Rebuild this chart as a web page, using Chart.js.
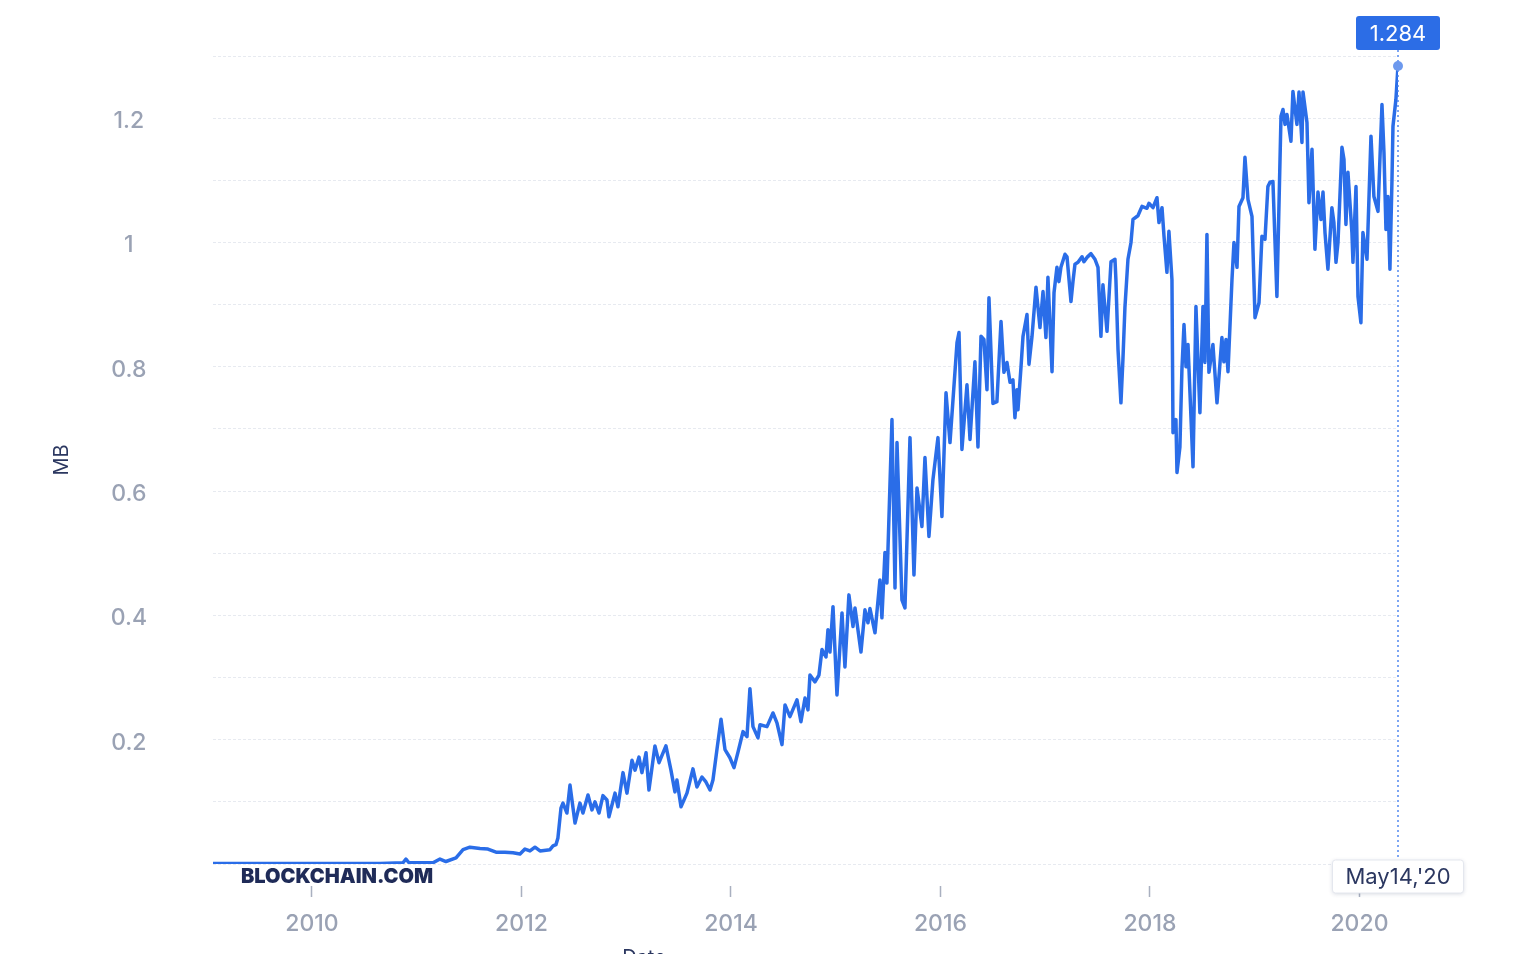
<!DOCTYPE html>
<html>
<head>
<meta charset="utf-8">
<title>Average Block Size</title>
<script src="https://cdn.jsdelivr.net/npm/chart.js@4/dist/chart.umd.min.js"></script>
<style>
  html, body { margin: 0; padding: 0; background: #fff; overflow: hidden; }
  #wrap { position: relative; width: 1518px; height: 990px; }
</style>
</head>
<body>
<div id="wrap"><canvas id="sizeChart"></canvas></div>
<script>
// dates as decimal years
const dates = [
	2009.055, 2009.885, 2010.649, 2010.869, 2010.897, 2010.926, 2011.155, 2011.222, 2011.279, 2011.375,
	2011.442, 2011.508, 2011.604, 2011.680, 2011.757, 2011.842, 2011.919, 2011.986, 2012.033, 2012.081,
	2012.129, 2012.177, 2012.272, 2012.301, 2012.329, 2012.348, 2012.377, 2012.396, 2012.434, 2012.463,
	2012.511, 2012.558, 2012.587, 2012.635, 2012.673, 2012.702, 2012.740, 2012.778, 2012.816, 2012.835,
	2012.893, 2012.921, 2012.969, 2013.007, 2013.055, 2013.084, 2013.122, 2013.150, 2013.189, 2013.217,
	2013.274, 2013.313, 2013.379, 2013.427, 2013.465, 2013.484, 2013.523, 2013.580, 2013.637, 2013.675,
	2013.723, 2013.761, 2013.800, 2013.828, 2013.866, 2013.905, 2013.943, 2013.990, 2014.029, 2014.067,
	2014.115, 2014.153, 2014.181, 2014.210, 2014.258, 2014.277, 2014.344, 2014.401, 2014.439, 2014.487,
	2014.516, 2014.563, 2014.630, 2014.668, 2014.707, 2014.735, 2014.754, 2014.802, 2014.840, 2014.869,
	2014.907, 2014.926, 2014.945, 2014.974, 2015.012, 2015.060, 2015.088, 2015.126, 2015.165, 2015.184,
	2015.241, 2015.279, 2015.308, 2015.327, 2015.375, 2015.422, 2015.441, 2015.470, 2015.489, 2015.537,
	2015.566, 2015.585, 2015.632, 2015.661, 2015.709, 2015.747, 2015.776, 2015.823, 2015.852, 2015.890,
	2015.928, 2015.976, 2016.014, 2016.053, 2016.091, 2016.158, 2016.177, 2016.205, 2016.253, 2016.282,
	2016.329, 2016.358, 2016.387, 2016.415, 2016.444, 2016.463, 2016.501, 2016.539, 2016.578, 2016.606,
	2016.635, 2016.664, 2016.692, 2016.711, 2016.730, 2016.740, 2016.769, 2016.788, 2016.826, 2016.845,
	2016.874, 2016.912, 2016.950, 2016.979, 2017.007, 2017.026, 2017.065, 2017.084, 2017.112, 2017.131,
	2017.150, 2017.189, 2017.208, 2017.246, 2017.265, 2017.284, 2017.313, 2017.351, 2017.370, 2017.399,
	2017.437, 2017.475, 2017.504, 2017.532, 2017.551, 2017.590, 2017.628, 2017.666, 2017.675, 2017.695,
	2017.723, 2017.742, 2017.761, 2017.790, 2017.819, 2017.838, 2017.885, 2017.924, 2017.971, 2017.990,
	2018.029, 2018.067, 2018.086, 2018.115, 2018.134, 2018.162, 2018.181, 2018.210, 2018.220, 2018.248,
	2018.258, 2018.286, 2018.305, 2018.325, 2018.344, 2018.363, 2018.382, 2018.411, 2018.439, 2018.477,
	2018.506, 2018.525, 2018.544, 2018.563, 2018.601, 2018.640, 2018.687, 2018.706, 2018.726, 2018.745,
	2018.783, 2018.802, 2018.831, 2018.850, 2018.888, 2018.907, 2018.936, 2018.974, 2019.003, 2019.041,
	2019.069, 2019.098, 2019.126, 2019.146, 2019.174, 2019.212, 2019.251, 2019.270, 2019.289, 2019.308,
	2019.346, 2019.365, 2019.403, 2019.423, 2019.451, 2019.461, 2019.499, 2019.518, 2019.547, 2019.575,
	2019.604, 2019.633, 2019.652, 2019.671, 2019.699, 2019.737, 2019.756, 2019.776, 2019.795, 2019.833,
	2019.852, 2019.871, 2019.890, 2019.928, 2019.938, 2019.967, 2019.986, 2020.014, 2020.033, 2020.072,
	2020.110, 2020.138, 2020.177, 2020.215, 2020.234, 2020.253, 2020.272, 2020.291, 2020.310, 2020.320,
	2020.348, 2020.368
];

// average block size in MB
const blockSize = [
	0.001, 0.001, 0.001, 0.002, 0.008, 0.002, 0.002, 0.008, 0.004, 0.010,
	0.023, 0.027, 0.025, 0.024, 0.019, 0.019, 0.018, 0.016, 0.024, 0.021,
	0.027, 0.021, 0.023, 0.029, 0.031, 0.042, 0.090, 0.098, 0.082, 0.127,
	0.066, 0.098, 0.082, 0.111, 0.087, 0.100, 0.082, 0.110, 0.103, 0.076,
	0.114, 0.092, 0.147, 0.114, 0.167, 0.151, 0.172, 0.147, 0.179, 0.119,
	0.190, 0.163, 0.190, 0.151, 0.116, 0.135, 0.092, 0.114, 0.153, 0.124,
	0.140, 0.132, 0.119, 0.135, 0.184, 0.233, 0.184, 0.171, 0.155, 0.180,
	0.213, 0.205, 0.282, 0.221, 0.203, 0.224, 0.221, 0.243, 0.227, 0.192,
	0.256, 0.237, 0.264, 0.229, 0.267, 0.248, 0.304, 0.293, 0.304, 0.345,
	0.333, 0.377, 0.341, 0.414, 0.272, 0.404, 0.317, 0.433, 0.382, 0.412,
	0.341, 0.409, 0.388, 0.411, 0.372, 0.457, 0.396, 0.501, 0.452, 0.715,
	0.444, 0.678, 0.425, 0.412, 0.686, 0.465, 0.605, 0.543, 0.654, 0.527,
	0.618, 0.686, 0.559, 0.758, 0.678, 0.839, 0.855, 0.667, 0.771, 0.683,
	0.808, 0.671, 0.849, 0.844, 0.763, 0.911, 0.741, 0.744, 0.873, 0.791,
	0.807, 0.775, 0.779, 0.718, 0.763, 0.731, 0.800, 0.849, 0.884, 0.804,
	0.849, 0.928, 0.863, 0.921, 0.847, 0.944, 0.792, 0.919, 0.960, 0.937,
	0.960, 0.981, 0.977, 0.905, 0.937, 0.965, 0.968, 0.977, 0.969, 0.976,
	0.982, 0.973, 0.960, 0.849, 0.932, 0.857, 0.969, 0.973, 0.940, 0.828,
	0.742, 0.812, 0.895, 0.973, 1.000, 1.037, 1.043, 1.058, 1.055, 1.063,
	1.056, 1.072, 1.032, 1.056, 1.010, 0.952, 1.018, 0.940, 0.694, 0.715,
	0.630, 0.671, 0.795, 0.868, 0.800, 0.836, 0.758, 0.639, 0.897, 0.726,
	0.897, 0.807, 1.013, 0.791, 0.836, 0.742, 0.847, 0.808, 0.844, 0.792,
	0.940, 1.000, 0.960, 1.058, 1.072, 1.137, 1.069, 1.042, 0.879, 0.903,
	1.010, 1.005, 1.090, 1.097, 1.098, 0.913, 1.203, 1.214, 1.190, 1.206,
	1.163, 1.243, 1.190, 1.242, 1.161, 1.242, 1.193, 1.064, 1.150, 0.989,
	1.081, 1.037, 1.081, 1.016, 0.957, 1.056, 1.032, 0.968, 1.000, 1.153,
	1.134, 1.029, 1.113, 1.016, 0.968, 1.090, 0.913, 0.871, 1.016, 0.973,
	1.171, 1.074, 1.050, 1.222, 1.145, 1.021, 1.074, 0.957, 1.097, 1.187,
	1.230, 1.284
];

const yearTicks = [2010, 2012, 2014, 2016, 2018, 2020];
const lastDateLabel = "May14,'20";

const FONT = 'Inter, "Noto Sans", sans-serif';
const LINE_BLUE = '#2a6de8';
const NAVY = '#2b3760';
const TICK_GRAY = '#9aa2b4';

// crosshair, point and labels for the last value
const lastValuePlugin = {
	id: 'lastValue',
	afterDatasetsDraw(chart) {
		const ctx = chart.ctx;
		const area = chart.chartArea;
		const meta = chart.getDatasetMeta(0);
		const pt = meta.data[meta.data.length - 1];
		const px = pt.x;
		const py = pt.y;

		ctx.save();
		ctx.strokeStyle = 'rgba(70,128,238,0.7)';
		ctx.lineWidth = 2;
		ctx.setLineDash([2, 3]);
		ctx.beginPath();
		ctx.moveTo(px, area.top - 6);
		ctx.lineTo(px, area.bottom - 4);
		ctx.stroke();
		ctx.setLineDash([]);

		ctx.fillStyle = '#6d99ee';
		ctx.beginPath();
		ctx.arc(px, py, 5, 0, Math.PI * 2);
		ctx.fill();

		// value box on top
		const valText = blockSize[blockSize.length - 1].toFixed(3);
		ctx.font = '22px ' + FONT;
		const bw = 84, bh = 34;
		ctx.fillStyle = '#2c6de6';
		ctx.beginPath();
		ctx.roundRect(px - bw / 2, area.top - 40, bw, bh, 3);
		ctx.fill();
		ctx.fillStyle = '#ffffff';
		ctx.textAlign = 'center';
		ctx.textBaseline = 'middle';
		ctx.fillText(valText, px, area.top - 22);

		// date box at the bottom
		const dw = 131, dh = 33;
		ctx.shadowColor = 'rgba(30,45,90,0.18)';
		ctx.shadowBlur = 4;
		ctx.shadowOffsetY = 1;
		ctx.fillStyle = '#ffffff';
		ctx.beginPath();
		ctx.roundRect(px - dw / 2, area.bottom - 4, dw, dh, 3);
		ctx.fill();
		ctx.shadowColor = 'transparent';
		ctx.strokeStyle = '#e4e7ee';
		ctx.lineWidth = 1;
		ctx.stroke();
		ctx.fillStyle = NAVY;
		ctx.fillText(lastDateLabel, px, area.bottom + 13);
		ctx.restore();
	},
	afterDraw(chart) {
		const ctx = chart.ctx;
		const area = chart.chartArea;
		ctx.save();
		ctx.fillStyle = '#1f2b58';
		ctx.font = '900 20px ' + FONT;
		ctx.textAlign = 'left';
		ctx.textBaseline = 'middle';
		ctx.fillText('BLOCKCHAIN.COM', area.left + 28, area.bottom + 13);

		ctx.fillStyle = NAVY;
		ctx.font = '20px ' + FONT;
		ctx.textAlign = 'center';
		ctx.fillText('Date', 644, area.bottom + 94);
		ctx.restore();
	}
};

document.addEventListener('DOMContentLoaded', function() {

	const ctx = document.getElementById('sizeChart').getContext('2d');

	new Chart(ctx, {
		type: 'line',
		data: {
			datasets: [{
				label: 'Average Block Size',
				data: dates.map((d, i) => ({ x: d, y: blockSize[i] })),
				borderColor: LINE_BLUE,
				borderWidth: 3.5,
				pointRadius: 0,
				tension: 0,
				borderJoinStyle: 'round',
				fill: false
			}]
		},
		options: {
			responsive: true,
			maintainAspectRatio: false,
			animation: false,
			layout: {
				padding: { top: 56, right: 120, left: 0, bottom: 0 }
			},
			plugins: {
				legend: { display: false },
				tooltip: { enabled: false }
			},
			scales: {
				x: {
					type: 'linear',
					min: dates[0],
					max: dates[dates.length - 1],
					afterFit: scale => { scale.height = 126; },
					afterBuildTicks: scale => {
						scale.ticks = yearTicks.map(v => ({ value: v }));
					},
					ticks: {
						includeBounds: false,
						padding: 13,
						color: TICK_GRAY,
						font: { family: FONT, size: 23, weight: '500' },
						callback: v => String(v)
					},
					grid: {
						drawOnChartArea: false,
						drawTicks: true,
						tickLength: 33,
						tickBorderDash: [0, 22, 11, 60],
						tickColor: '#a9b0c0',
						tickWidth: 1.5
					},
					border: { display: false }
				},
				y: {
					min: 0,
					max: 1.3,
					afterFit: scale => {
						scale.width = 213;
						scale.paddingTop = 0;
						scale.paddingBottom = 0;
					},
					ticks: {
						stepSize: 0.1,
						padding: 66,
						labelOffset: 3,
						crossAlign: 'center',
						color: TICK_GRAY,
						font: { family: FONT, size: 23, weight: '500' },
						callback: v => {
							const n = Math.round(v * 10);
							if (n === 0 || n % 2 !== 0 || n > 12) return '';
							return String(n / 10);
						}
					},
					grid: {
						drawTicks: false,
						color: '#e7eaf0',
						lineWidth: 1
					},
					border: { display: false, dash: [3, 2] },
					title: {
						display: true,
						text: 'MB',
						color: NAVY,
						font: { family: FONT, size: 20 },
						padding: { top: 50, bottom: 0 }
					}
				}
			}
		},
		plugins: [lastValuePlugin]
	});

});
</script>
</body>
</html>
